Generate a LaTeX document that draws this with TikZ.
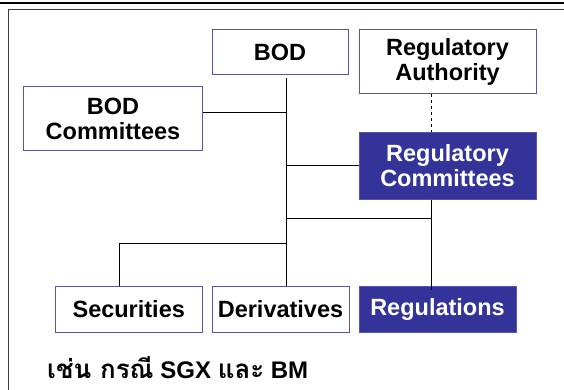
\documentclass[tikz,border=0pt]{standalone}
\usepackage{fontspec}
\setmainfont{Liberation Sans}
\newfontfamily\thaifont[Script=Thai,Scale=1.08]{Loma}
\usepackage{tikz}
\usetikzlibrary{positioning, calc}
\definecolor{boxline}{RGB}{85,85,175}
\definecolor{navy}{RGB}{51,51,153}
\definecolor{framegray}{RGB}{60,60,60}

\begin{document}
\begin{tikzpicture}[x=1pt, y=-1pt]
	\tikzset{unit/.style={draw=boxline, rectangle, fill=white, line width=1pt, align=center, font=\fontsize{23.5}{25}\selectfont\bfseries, inner sep=0pt}}
	\tikzset{darkunit/.style={unit, fill=navy, text=white}}
	\tikzset{link/.style={black, line width=1pt}}
	
	\useasboundingbox (0,0) rectangle (564,390);
	\draw[black, line width=2pt] (0,3.5) -- (564,3.5);
	\draw[framegray, line width=1pt] (564,10) -- (8,10) -- (8,390);
	
	\node(bod) at (280,52.5) [unit, minimum width=136, minimum height=45] {BOD};
	\node(auth) at (447.5,62) [unit, minimum width=177, minimum height=64] {Regulatory\\Authority};
	\node(bodcom) at (113,119) [unit, minimum width=179, minimum height=64] {BOD\\Committees};
	\node(regcom) at (447.5,166) [darkunit, minimum width=177, minimum height=66] {Regulatory\\Committees};
	
	\node(sec) at (128.75,309) [unit, minimum width=147.5, minimum height=46] {Securities};
	\node(der) at (280.5,309) [unit, minimum width=137, minimum height=46] {Derivatives};
	\node(regs) at (437.5,309) [darkunit, minimum width=157, minimum height=46] {Regulations};
	
	\coordinate(trunk) at (286,0);
	\coordinate(right) at (431,0);
	\coordinate(split) at (286,218);
	\coordinate(branch) at (286,243);
	
	\draw[link] ([yshift=-3pt]bod.south -| trunk) -- (der.north -| trunk);
	\draw[link] ([yshift=6pt]bodcom.east) -- ([yshift=6pt]bodcom.east -| trunk);
	\draw[link] (regcom.west -| trunk) -- (regcom.west);
	\draw[link, dashed] (auth.south -| right) -- (regcom.north -| right);
	\draw[link] (regcom.south -| right) -- ([yshift=-4pt]regs.north -| right);
	\draw[link] (split) -- (split -| right);
	\draw[link] (branch) -| ([xshift=-9.75pt]sec.north);
	
	\node(note) at (47,378.5) [anchor=base west, inner sep=0pt, font=\fontsize{24}{25}\selectfont\bfseries] {{\thaifont เช่น กรณี} SGX {\thaifont และ} BM};
\end{tikzpicture}
\end{document}
